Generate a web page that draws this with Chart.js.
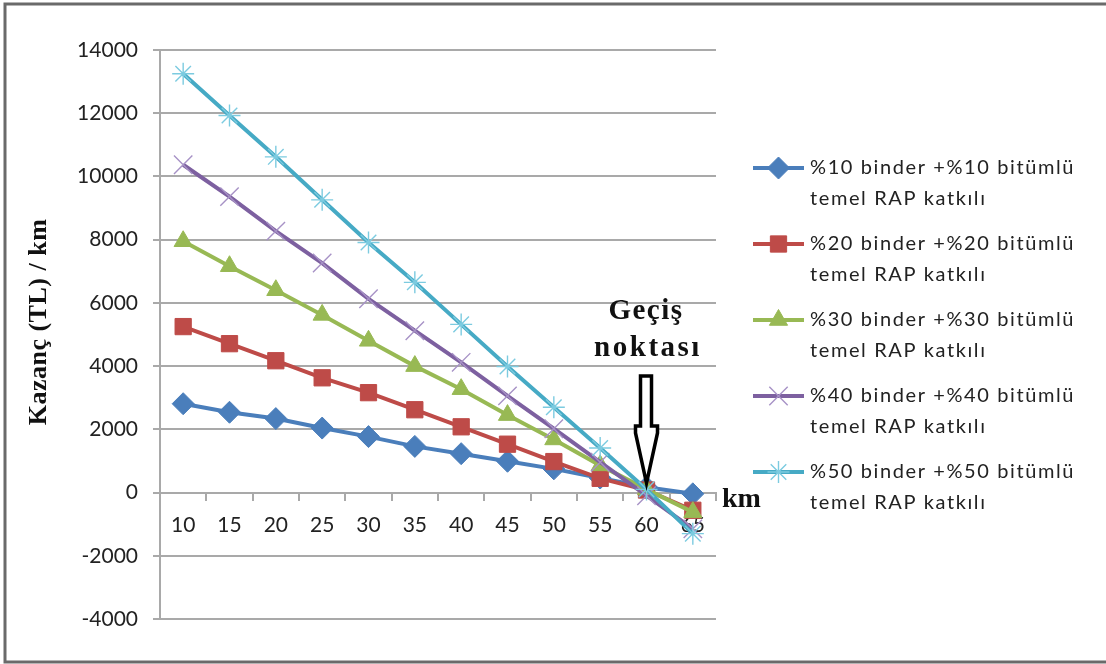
<!DOCTYPE html>
<html lang="tr">
<head>
<meta charset="utf-8">
<title>Kazanç / km</title>
<script src="https://cdn.jsdelivr.net/npm/chart.js@4.4.1/dist/chart.umd.min.js"></script>
<style>
  html, body { margin: 0; padding: 0; background: #fff; }
  #wrap { width: 1106px; height: 664px; position: relative; }
</style>
</head>
<body>
<div id="wrap"><canvas id="c" width="1106" height="664"></canvas></div>
<script>
// Mesafe (km) kategorileri
const km = ['10', '15', '20', '25', '30', '35', '40', '45', '50', '55', '60', '65'];

// Kazanç (TL) / km serileri
const rap10 = [2810, 2540, 2340, 2040, 1770, 1460, 1230, 990, 750, 460, 170, -40];
const rap20 = [5250, 4710, 4170, 3630, 3160, 2620, 2080, 1530, 980, 450, 80, -560];
const rap30 = [7950, 7160, 6400, 5620, 4800, 4000, 3270, 2450, 1680, 860, 100, -620];
const rap40 = [10370, 9360, 8270, 7260, 6130, 5120, 4120, 3060, 2020, 960, -100, -1150];
const rap50 = [13250, 11930, 10620, 9260, 7910, 6650, 5320, 3990, 2700, 1410, 100, -1300];

// Y ekseni bölümleri
const yMin = -4000;
const yMax = 14000;
const yStep = 2000;

// Seri adları (lejantta iki satır)
const seriesNames = [
  ['%10 binder +%10 bitümlü', 'temel RAP katkılı'],
  ['%20 binder +%20 bitümlü', 'temel RAP katkılı'],
  ['%30 binder +%30 bitümlü', 'temel RAP katkılı'],
  ['%40 binder +%40 bitümlü', 'temel RAP katkılı'],
  ['%50 binder +%50 bitümlü', 'temel RAP katkılı']
];

const seriesData = [rap10, rap20, rap30, rap40, rap50];
const colors = ['#4a7ebb', '#be4b48', '#98b954', '#7d60a0', '#46aac5'];
const markerColors = ['#4a7ebb', '#be4b48', '#98b954', '#a792c6', '#7ccbe0'];
const markers = [
  { style: 'rectRot', radius: 11, border: 1 },
  { style: 'rect', radius: 11.5, border: 1 },
  { style: 'triangle', radius: 10.5, border: 1 },
  { style: 'crossRot', radius: 13, border: 1.4 },
  { style: 'star', radius: 11, border: 1.4 }
];

const gridColor = '#a9a9a9';
const textColor = '#222222';
const tickFont = { family: 'Lato', size: 21 };

const datasets = seriesData.map((d, i) => ({
  label: seriesNames[i].join(' '),
  data: d,
  borderColor: colors[i],
  backgroundColor: colors[i],
  borderWidth: 4,
  pointStyle: markers[i].style,
  pointRadius: markers[i].radius,
  pointHoverRadius: markers[i].radius,
  pointBackgroundColor: markerColors[i],
  pointBorderColor: markerColors[i],
  pointBorderWidth: markers[i].border,
  tension: 0,
  clip: false,
  order: seriesData.length - 1 - i
}));

function drawMarker(ctx, style, radius, borderWidth, x, y) {
  if (Chart.helpers && Chart.helpers.drawPoint) {
    Chart.helpers.drawPoint(ctx, { pointStyle: style, radius: radius, borderWidth: borderWidth, rotation: 0 }, x, y);
  }
}

// Çerçeve, eksen başlığı, geçiş noktası oku ve lejant
const decorations = {
  id: 'decorations',
  afterDraw(chart) {
    const ctx = chart.ctx;
    ctx.save();

    // dış çerçeve
    ctx.strokeStyle = '#6a6a6a';
    ctx.lineWidth = 3;
    ctx.beginPath();
    ctx.moveTo(1106, 4); ctx.lineTo(5, 4); ctx.lineTo(5, 662); ctx.lineTo(1106, 662);
    ctx.stroke();

    // y ekseni başlığı
    ctx.fillStyle = '#111';
    ctx.font = 'bold 26px "Liberation Serif"';
    ctx.textAlign = 'center';
    ctx.textBaseline = 'middle';
    ctx.save();
    ctx.translate(39, 322);
    ctx.rotate(-Math.PI / 2);
    ctx.letterSpacing = '0.5px';
    ctx.fillText('Kazanç (TL) / km', 0, 0);
    ctx.restore();

    // geçiş noktası yazısı
    ctx.font = 'bold 29px "Liberation Serif"';
    ctx.textBaseline = 'alphabetic';
    ctx.letterSpacing = '1.5px';
    ctx.fillText('Geçiş', 646, 319);
    ctx.letterSpacing = '2.5px';
    ctx.fillText('noktası', 648, 356);
    ctx.letterSpacing = '0px';

    // x ekseni birimi
    ctx.textAlign = 'left';
    ctx.font = 'bold 28px "Liberation Serif"';
    ctx.fillText('km', 722, 507);

    // içi boş ok
    const xs = chart.scales.x, ys = chart.scales.y;
    const tipX = xs.getPixelForValue(10);
    const tipY = ys.getPixelForValue(300);
    ctx.beginPath();
    ctx.moveTo(tipX - 6, 376);
    ctx.lineTo(tipX + 5, 376);
    ctx.lineTo(tipX + 5, 426);
    ctx.lineTo(tipX + 11, 426);
    ctx.lineTo(tipX + 11, 433);
    ctx.lineTo(tipX, tipY);
    ctx.lineTo(tipX - 11, 433);
    ctx.lineTo(tipX - 11, 426);
    ctx.lineTo(tipX - 6, 426);
    ctx.closePath();
    ctx.fillStyle = '#fff';
    ctx.fill();
    ctx.strokeStyle = '#000';
    ctx.lineWidth = 3.5;
    ctx.lineJoin = 'miter';
    ctx.stroke();

    // lejant
    const lx0 = 753, lx1 = 804, tx = 810;
    seriesNames.forEach((lines, i) => {
      const y0 = 168 + i * 76;
      ctx.strokeStyle = colors[i];
      ctx.lineWidth = 4;
      ctx.beginPath();
      ctx.moveTo(lx0, y0); ctx.lineTo(lx1, y0);
      ctx.stroke();
      ctx.fillStyle = markerColors[i];
      ctx.strokeStyle = markerColors[i];
      ctx.lineWidth = markers[i].border;
      drawMarker(ctx, markers[i].style, markers[i].radius, markers[i].border, (lx0 + lx1) / 2, y0);
      ctx.fillStyle = textColor;
      ctx.font = '20px Lato';
      ctx.textAlign = 'left';
      ctx.textBaseline = 'middle';
      ctx.letterSpacing = '1.6px';
      lines.forEach((t, k) => ctx.fillText(t, tx, y0 + k * 31));
      ctx.letterSpacing = '0px';
    });

    ctx.restore();
  }
};

new Chart(document.getElementById('c'), {
  type: 'line',
  data: { labels: km, datasets: datasets },
  options: {
    responsive: false,
    animation: false,
    events: [],
    layout: { padding: { left: 0, top: 50, right: 390, bottom: 45 } },
    plugins: {
      legend: { display: false },
      tooltip: { enabled: false },
      title: { display: false }
    },
    scales: {
      x: {
        type: 'category',
        position: { y: 0 },
        offset: true,
        grid: {
          offset: true,
          drawOnChartArea: false,
          drawTicks: true,
          tickLength: 7,
          color: gridColor,
          lineWidth: 2
        },
        border: { display: true, color: gridColor, width: 2 },
        ticks: {
          font: tickFont,
          color: textColor,
          padding: 13,
          maxRotation: 0,
          autoSkip: false
        }
      },
      y: {
        min: yMin,
        max: yMax,
        afterFit(scale) { scale.width = 160; },
        grid: {
          color: gridColor,
          lineWidth: 2,
          tickLength: 7
        },
        border: { display: true, color: gridColor, width: 2 },
        ticks: {
          stepSize: yStep,
          font: tickFont,
          color: textColor,
          padding: 15,
          callback: (v) => String(v)
        }
      }
    }
  },
  plugins: [decorations]
});
</script>
</body>
</html>
